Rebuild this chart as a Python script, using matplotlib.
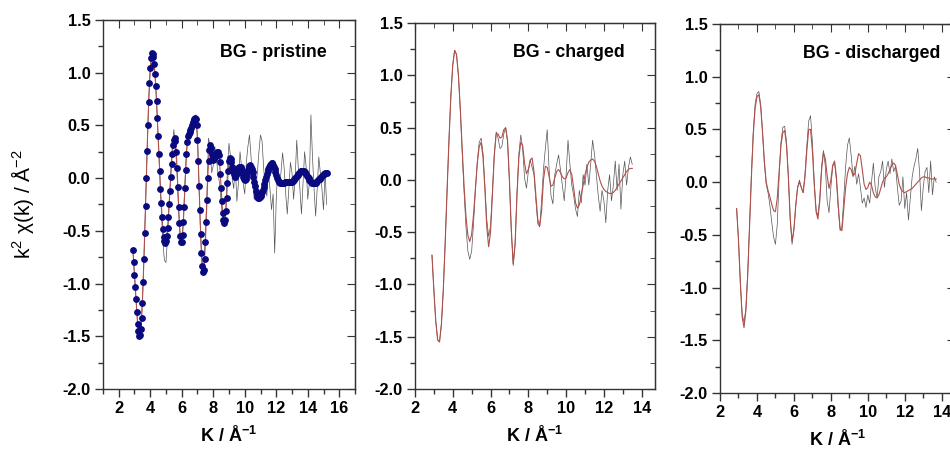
import numpy as np
import matplotlib
matplotlib.use("Agg")
import matplotlib.pyplot as plt
from matplotlib.ticker import MultipleLocator, FormatStrFormatter

plt.rcParams['font.family'] = ['Liberation Sans', 'DejaVu Sans']
plt.rcParams['axes.unicode_minus'] = False
plt.rcParams['mathtext.default'] = 'regular'

# ---- BG - pristine ----------------------------------------------------
pris_fit_k0, pris_fit_dk = 2.9, 0.05
pris_fit = [
    -0.68, -0.80, -0.92, -1.03, -1.15, -1.27, -1.38, -1.45, -1.50, -1.49,
    -1.43, -1.33, -1.18, -0.99, -0.77, -0.52, -0.26, 0.00, 0.26, 0.50,
    0.72, 0.90, 1.04, 1.14, 1.19, 1.18, 1.15, 1.08, 0.99, 0.87,
    0.73, 0.57, 0.40, 0.23, 0.07, -0.10, -0.24, -0.37, -0.48, -0.56,
    -0.60, -0.62, -0.60, -0.55, -0.47, -0.37, -0.25, -0.12, 0.01, 0.13,
    0.23, 0.31, 0.36, 0.38, 0.35, 0.25, 0.10, -0.08, -0.27, -0.43,
    -0.55, -0.61, -0.61, -0.54, -0.42, -0.27, -0.09, 0.08, 0.23, 0.34,
    0.40, 0.42, 0.44, 0.46, 0.48, 0.50, 0.53, 0.55, 0.565, 0.57,
    0.565, 0.50, 0.36, 0.16, -0.07, -0.30, -0.53, -0.71, -0.83, -0.89,
    -0.87, -0.77, -0.61, -0.42, -0.21, 0.00, 0.16, 0.27, 0.31, 0.29,
    0.23, 0.18, 0.17, 0.18, 0.20, 0.225, 0.24, 0.25, 0.25, 0.22,
    0.15, 0.04, -0.09, -0.22, -0.33, -0.40, -0.43, -0.40, -0.31, -0.19,
    -0.05, 0.07, 0.16, 0.19, 0.18, 0.15, 0.11, 0.07, 0.035, 0.015,
    0.012, 0.025, 0.05, 0.075, 0.095, 0.107, 0.11, 0.104, 0.08, 0.045,
    0.01, -0.012, -0.02, -0.012, 0.01, 0.04, 0.075, 0.10, 0.117, 0.12,
    0.11, 0.088, 0.055, 0.015, -0.04, -0.076, -0.118, -0.152, -0.177, -0.189,
    -0.189, -0.183, -0.171, -0.155, -0.134, -0.109, -0.082, -0.052, -0.022, 0.008,
    0.038, 0.064, 0.089, 0.108, 0.124, 0.134, 0.14, 0.139, 0.128, 0.109,
    0.084, 0.056, 0.027, 0.0, -0.021, -0.035, -0.04, -0.042, -0.043, -0.044,
    -0.044, -0.043, -0.042, -0.041, -0.04, -0.039, -0.038, -0.038, -0.039, -0.04,
    -0.04, -0.039, -0.035, -0.029, -0.022, -0.012, -0.002, 0.009, 0.021, 0.032,
    0.043, 0.052, 0.06, 0.065, 0.069, 0.07, 0.068, 0.064, 0.057, 0.047,
    0.036, 0.023, 0.01, -0.003, -0.016, -0.027, -0.037, -0.044, -0.049, -0.05,
    -0.049, -0.047, -0.043, -0.037, -0.03, -0.022, -0.013, -0.005, 0.005, 0.013,
    0.022, 0.03, 0.037, 0.043, 0.047, 0.049, 0.05,
]
pris_data_k0, pris_data_dk = 2.9, 0.1
pris_data = [
    -0.68, -0.92, -1.15, -1.38, -1.50, -1.43, -1.18, -0.77, -0.26, 0.26,
    0.72, 1.04, 1.19, 1.15, 0.99, 0.73, 0.40, 0.05, -0.30, -0.60,
    -0.78, -0.80, -0.55, -0.25, 0.05, 0.30, 0.46, 0.30, 0.05, -0.30,
    -0.55, -0.62, -0.40, -0.05, 0.25, 0.40, 0.42, 0.47, 0.50, 0.58,
    0.60, 0.38, -0.10, -0.55, -0.85, -0.84, -0.55, -0.15, 0.38, 0.30,
    0.05, 0.12, 0.30, 0.18, 0.05, -0.05, -0.22, -0.38, -0.46, -0.30,
    0.10, 0.33, 0.20, 0.00, -0.10, 0.12, -0.22, -0.05, 0.25, 0.10,
    -0.05, -0.15, 0.15, 0.30, 0.41, 0.20, -0.05, -0.20, -0.10, 0.05,
    0.25, 0.41, 0.35, 0.10, -0.10, -0.17, 0.05, -0.10, -0.30, -0.15,
    -0.71, -0.20, 0.10, -0.05, 0.05, 0.24, 0.10, -0.15, -0.34, -0.10,
    0.15, 0.05, -0.20, 0.00, 0.36, 0.10, -0.10, -0.34, -0.05, 0.25,
    0.10, -0.20, -0.05, 0.60, 0.20, -0.10, -0.36, -0.10, 0.20, 0.05,
    -0.10, -0.30, 0.05, -0.25,
]

# ---- BG - charged -----------------------------------------------------
chg_k0, chg_dk = 2.9, 0.1
chg_data = [
    -0.72, -1.05, -1.35, -1.53, -1.55, -1.38, -1.05, -0.60, -0.10, 0.38,
    0.80, 1.10, 1.24, 1.20, 1.00, 0.66, 0.26, -0.12, -0.45, -0.68,
    -0.76, -0.68, -0.42, -0.10, 0.18, 0.36, 0.40, 0.26, -0.05, -0.38,
    -0.54, -0.44, -0.10, 0.25, 0.46, 0.40, 0.30, 0.32, 0.44, 0.50,
    0.36, -0.02, -0.50, -0.82, -0.60, -0.12, 0.25, 0.43, 0.30, 0.02,
    -0.08, 0.08, 0.19, 0.12, 0.05, -0.20, -0.42, -0.45, -0.20, 0.10,
    0.30, 0.48, 0.10, -0.15, -0.23, 0.05, 0.15, 0.24, 0.10, -0.05,
    -0.20, 0.05, 0.38, 0.15, -0.05, -0.15, -0.28, -0.35, -0.10, -0.22,
    0.05, -0.05, 0.15, -0.05, 0.15, 0.38, 0.25, 0.05, -0.15, -0.30,
    -0.10, -0.20, -0.41, -0.10, 0.05, -0.20, -0.05, 0.18, -0.10, 0.15,
    -0.28, 0.05, 0.18, -0.05, 0.12, 0.22, 0.15,
]
chg_fit = [
    -0.72, -1.05, -1.35, -1.53, -1.55, -1.38, -1.05, -0.60, -0.10, 0.38,
    0.80, 1.10, 1.24, 1.20, 1.00, 0.68, 0.30, -0.06, -0.35, -0.53,
    -0.59, -0.52, -0.33, -0.08, 0.16, 0.32, 0.36, 0.22, -0.08, -0.45,
    -0.64, -0.50, -0.14, 0.24, 0.44, 0.44, 0.40, 0.41, 0.48, 0.50,
    0.38, 0.00, -0.48, -0.80, -0.62, -0.15, 0.22, 0.36, 0.33, 0.16,
    0.06, 0.10, 0.19, 0.21, 0.08, -0.15, -0.38, -0.44, -0.30, 0.00,
    0.13, 0.12, 0.03, -0.06, -0.05, 0.02, 0.08, 0.10, 0.07, 0.03,
    0.01, 0.02, 0.07, 0.10, 0.05, -0.08, -0.22, -0.27, -0.24, -0.15,
    -0.05, 0.05, 0.12, 0.17, 0.19, 0.20, 0.18, 0.13, 0.06, -0.01,
    -0.06, -0.09, -0.11, -0.12, -0.13, -0.13, -0.12, -0.10, -0.07, -0.04,
    -0.01, 0.02, 0.05, 0.08, 0.10, 0.11, 0.11,
]

# ---- BG - discharged --------------------------------------------------
dis_k0, dis_dk = 2.9, 0.1
dis_data = [
    -0.25, -0.55, -0.95, -1.25, -1.33, -1.20, -0.86, -0.40, 0.08, 0.48,
    0.74, 0.84, 0.86, 0.74, 0.48, 0.18, -0.02, -0.10, -0.22, -0.38,
    -0.52, -0.59, -0.40, 0.05, 0.38, 0.52, 0.53, 0.38, 0.05, -0.35,
    -0.59, -0.45, -0.22, -0.05, 0.02, -0.05, -0.10, 0.08, 0.35, 0.58,
    0.63, 0.38, 0.00, -0.26, -0.32, -0.15, 0.15, 0.30, 0.15, -0.18,
    -0.29, -0.05, 0.15, 0.19, 0.02, -0.25, -0.46, -0.42, -0.15, 0.15,
    0.35, 0.42, 0.25, 0.05, 0.15, -0.02, 0.08, -0.05, -0.20, -0.15,
    -0.24, -0.12, -0.20, 0.00, 0.18, -0.05, -0.15, 0.05, 0.10, 0.20,
    -0.05, 0.12, 0.20, 0.08, 0.22, 0.10, 0.15, -0.05, -0.22, -0.18,
    0.05, -0.25, -0.10, -0.36, -0.15, 0.05, 0.15, 0.22, 0.32, 0.10,
    -0.27, -0.05, 0.10, 0.14, -0.10, 0.20, -0.12, 0.05, 0.00,
]
dis_fit = [
    -0.25, -0.55, -0.95, -1.28, -1.38, -1.22, -0.88, -0.42, 0.05, 0.45,
    0.70, 0.81, 0.83, 0.72, 0.48, 0.20, 0.00, -0.08, -0.14, -0.21,
    -0.27, -0.28, -0.15, 0.10, 0.35, 0.47, 0.49, 0.35, 0.05, -0.35,
    -0.56, -0.45, -0.22, -0.05, 0.00, -0.05, -0.10, 0.05, 0.30, 0.50,
    0.50, 0.30, -0.02, -0.28, -0.35, -0.18, 0.12, 0.28, 0.22, 0.06,
    -0.06, 0.02, 0.16, 0.20, 0.05, -0.22, -0.44, -0.46, -0.25, -0.05,
    0.08, 0.14, 0.12, 0.06, 0.08, 0.18, 0.27, 0.25, 0.12, -0.02,
    -0.07, -0.05, 0.00, -0.03, -0.10, -0.14, -0.15, -0.12, -0.06, 0.00,
    0.04, 0.05, 0.08, 0.12, 0.16, 0.18, 0.16, 0.07, -0.02, -0.07,
    -0.09, -0.10, -0.09, -0.08, -0.07, -0.06, -0.04, -0.02, 0.00, 0.02,
    0.04, 0.05, 0.05, 0.04, 0.04, 0.03, 0.03, 0.03, 0.03,
]

titles = ['BG - pristine', 'BG - charged', 'BG - discharged']
title_pos = [(0.464, 0.913), (0.408, 0.92), (0.353, 0.919)]
xlims = [(1, 17), (2, 14.7), (2, 14.7)]


def kgrid(k0, dk, vals):
    return k0 + dk * np.arange(len(vals))


fig = plt.figure(figsize=(9.5, 4.5), dpi=100)
ax1 = fig.add_axes([0.1084, 0.1356, 0.2653, 0.820])
ax2 = fig.add_axes([0.4368, 0.1356, 0.2526, 0.813])
ax3 = fig.add_axes([0.7579, 0.1267, 0.2470, 0.820])
axes = [ax1, ax2, ax3]

gray = '#555555'
red = '#b0504b'

ax1.plot(kgrid(pris_data_k0, pris_data_dk, pris_data), pris_data, color=gray, lw=0.5)
ax1.plot(kgrid(pris_fit_k0, pris_fit_dk, pris_fit), pris_fit, color=red, lw=0.8,
         marker='o', ms=3.9, mfc='#0a0a80', mec='#0a0a80')

ax2.plot(kgrid(chg_k0, chg_dk, chg_data), chg_data, color=gray, lw=0.5)
ax2.plot(kgrid(chg_k0, chg_dk, chg_fit), chg_fit, color=red, lw=0.8)

ax3.plot(kgrid(dis_k0, dis_dk, dis_data), dis_data, color=gray, lw=0.5)
ax3.plot(kgrid(dis_k0, dis_dk, dis_fit), dis_fit, color=red, lw=0.8)

for ax, title, pos, xl in zip(axes, titles, title_pos, xlims):
    ax.set_xlim(*xl)
    ax.set_ylim(-2.0, 1.5)
    ax.xaxis.set_major_locator(MultipleLocator(2))
    ax.xaxis.set_minor_locator(MultipleLocator(1))
    ax.yaxis.set_major_locator(MultipleLocator(0.5))
    ax.yaxis.set_minor_locator(MultipleLocator(0.25))
    ax.yaxis.set_major_formatter(FormatStrFormatter('%.1f'))
    ax.tick_params(which='both', direction='out', top=False, right=False,
                   width=1, color='#333333', labelsize=11.8, pad=3)
    ax.tick_params(which='major', length=6)
    ax.tick_params(which='minor', length=3.5)
    for lab in ax.get_xticklabels() + ax.get_yticklabels():
        lab.set_fontweight('bold')
    for sp in ax.spines.values():
        sp.set_color('#333333')
        sp.set_linewidth(1)
    # mirrored ticks on top and right, pointing inwards
    top = ax.secondary_xaxis('top')
    top.xaxis.set_major_locator(MultipleLocator(2))
    top.xaxis.set_minor_locator(MultipleLocator(1))
    top.tick_params(which='both', direction='in', labeltop=False, color='#333333')
    top.tick_params(which='major', length=6)
    top.tick_params(which='minor', length=3.5)
    right = ax.secondary_yaxis('right')
    right.yaxis.set_major_locator(MultipleLocator(0.5))
    right.yaxis.set_minor_locator(MultipleLocator(0.25))
    right.tick_params(which='both', direction='in', labelright=False, color='#333333')
    right.tick_params(which='major', length=6)
    right.tick_params(which='minor', length=3.5)

    ax.set_xlabel('K / Å$^{-1}$', fontsize=13, fontweight='bold', labelpad=7)
    ax.text(pos[0], pos[1], title, transform=ax.transAxes, fontsize=12.8,
            fontweight='bold', va='center')

ax1.set_ylabel('k$^2$ χ(k) / Å$^{-2}$', fontsize=15)
ax1.yaxis.set_label_coords(-0.265, 0.5)

fig.savefig('out.png', dpi=100)
